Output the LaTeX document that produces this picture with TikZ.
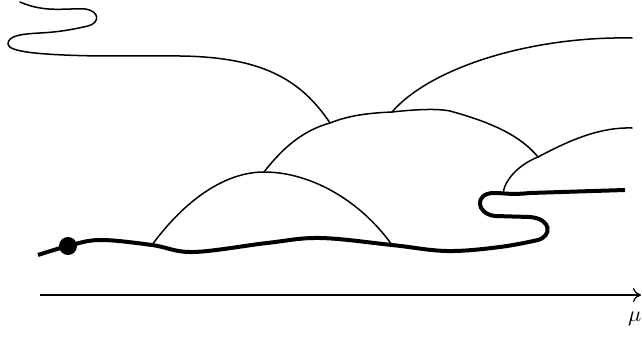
\documentclass[tikz,border=0pt]{standalone}
\usetikzlibrary{arrows.meta}
\begin{document}
\begin{tikzpicture}[x=1pt,y=-1pt,
  thin line/.style={line width=1.5pt,line cap=round},
  thick line/.style={line width=4pt},
  axisline/.style={line width=1.2pt,-{To[length=8pt,width=14pt]}}]
\useasboundingbox (0,0) rectangle (642,345);
% junction coordinates
\coordinate (j1) at (152,245);
\coordinate (j2) at (392,245);
\coordinate (p1) at (264,172);
\coordinate (m1) at (330,123);
\coordinate (m2) at (392,112);
\coordinate (m3) at (538,157);
\coordinate (r1) at (503,193);
% thick curve
\draw[thick line] plot[smooth,tension=0.6] coordinates {(38,255) (68,246) (100,240) (j1) (193,252) (267,243) (320,238) (j2) (447,251) (500,247) (538,240)}
  .. controls (552,236) and (552,219) .. (530,217)
  -- (495,216) .. controls (476,214) and (474,193) .. (494,193)
  .. controls (505,193) and (510,195) .. (530,193)
  -- (625,190);
\node[circle,fill,inner sep=0pt,minimum size=18pt] (dot) at (68,246) {};
% lower arch
\draw[thin line] (j1) .. controls (185,200) and (225,172) .. (p1)
  .. controls (310,172) and (360,200) .. (j2);
% middle arch
\draw[thin line] (p1) .. controls (285,145) and (305,130) .. (m1)
  .. controls (350,115) and (370,113) .. (m2)
  .. controls (410,110) and (435,108) .. (450,111)
  .. controls (490,122) and (520,135) .. (m3);
% upper left curve
\draw[thin line] (m1) .. controls (300,78) and (260,57) .. (180,56)
  -- (100,56) .. controls (40,55) and (8,52) .. (8,44)
  .. controls (8,36) and (20,34) .. (40,33)
  .. controls (60,32) and (75,29) .. (88,26)
  .. controls (100,23) and (100,11) .. (85,9)
  .. controls (65,8) and (45,13) .. (20,2);
% top right curve
\draw[thin line] (m2) .. controls (430,68) and (530,36) .. (632,38);
% right curve
\draw[thin line] (m3) .. controls (570,140) and (600,127) .. (632,128);
% small connector
\draw[thin line] (r1) .. controls (505,180) and (518,165) .. (m3);
% axis
\coordinate (a0) at (40,295);
\coordinate (a1) at (641,295);
\draw[axisline] (a0) -- (a1);
\node[anchor=base west,inner sep=0pt] (mu) at (628,321) {\scalebox{2.2}{$\mu$}};
\end{tikzpicture}
\end{document}
